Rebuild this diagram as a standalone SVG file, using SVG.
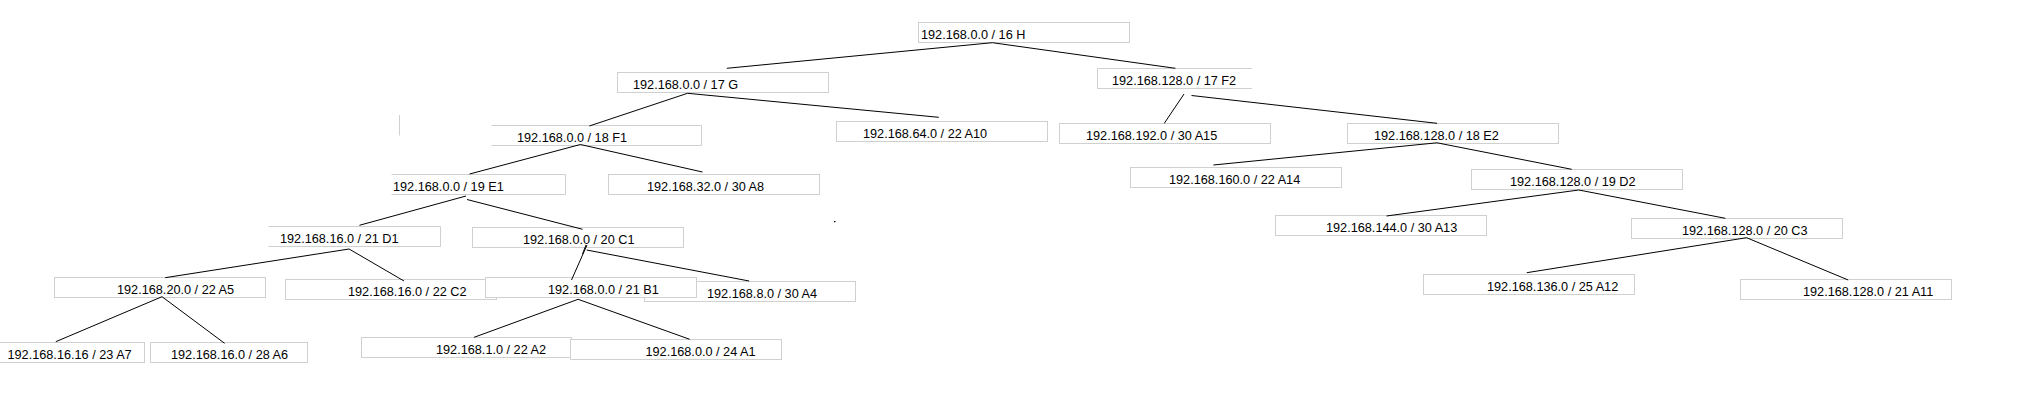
<svg xmlns="http://www.w3.org/2000/svg" width="2041" height="416" viewBox="0 0 2041 416">
<style>
.b{fill:#fff;stroke:#d0d0d0;stroke-width:1}
.o{fill:none;stroke:#d0d0d0;stroke-width:1}
.w{fill:#fff;stroke:none}
.t{font-family:"Liberation Sans",Arial,sans-serif;font-size:12.7px;fill:#000}
#connectors line,#connectors path{stroke:#000;stroke-width:1;fill:none}
</style>
<rect width="2041" height="416" fill="#fff"/>
<line x1="399.5" y1="115" x2="399.5" y2="135.5" stroke="#d0d0d0" stroke-width="1"/>
<rect x="834" y="221" width="1.5" height="1.2" fill="#000"/>
<g id="H"><rect class="b" x="918.5" y="22.5" width="211" height="20"/><text class="t" x="921" y="38.5">192.168.0.0 / 16 H</text></g>
<g id="G"><rect class="b" x="617.5" y="72.5" width="211" height="20"/><text class="t" x="633" y="88.5">192.168.0.0 / 17 G</text></g>
<g id="F2"><rect class="w" x="1097.5" y="68.5" width="154.5" height="20"/><path class="o" d="M1252 68.5H1097.5V88.5H1252"/><text class="t" x="1112" y="84.5">192.168.128.0 / 17 F2</text></g>
<g id="A10"><rect class="b" x="836.5" y="121.5" width="211" height="20"/><text class="t" x="863" y="137.5">192.168.64.0 / 22 A10</text></g>
<g id="A15"><rect class="b" x="1059.5" y="123.5" width="211" height="20"/><text class="t" x="1086" y="139.5">192.168.192.0 / 30 A15</text></g>
<g id="E2"><rect class="b" x="1347.5" y="123.5" width="211" height="20"/><text class="t" x="1374" y="139.5">192.168.128.0 / 18 E2</text></g>
<g id="F1"><rect class="w" x="491.5" y="125.5" width="210" height="20"/><path class="o" d="M491.5 125.5H701.5V145.5H491.5"/><text class="t" x="517" y="141.5">192.168.0.0 / 18 F1</text></g>
<g id="A8"><rect class="b" x="608.5" y="174.5" width="211" height="20"/><text class="t" x="647" y="190.5">192.168.32.0 / 30 A8</text></g>
<g id="A14"><rect class="b" x="1130.5" y="167.5" width="211" height="20"/><text class="t" x="1169" y="183.5">192.168.160.0 / 22 A14</text></g>
<g id="D2"><rect class="b" x="1471.5" y="169.5" width="211" height="20"/><text class="t" x="1510" y="185.5">192.168.128.0 / 19 D2</text></g>
<g id="E1"><rect class="w" x="391.5" y="174.5" width="174" height="20"/><path class="o" d="M391.5 174.5H565.5V194.5H391.5"/><text class="t" x="393" y="190.5">192.168.0.0 / 19 E1</text></g>
<g id="D1"><rect class="w" x="268.5" y="226.5" width="172" height="20"/><path class="o" d="M268.5 226.5H440.5V246.5H268.5"/><text class="t" x="280" y="242.5">192.168.16.0 / 21 D1</text></g>
<g id="C1"><rect class="b" x="472.5" y="227.5" width="211" height="20"/><text class="t" x="523" y="243.5">192.168.0.0 / 20 C1</text></g>
<g id="A13"><rect class="b" x="1275.5" y="215.5" width="211" height="20"/><text class="t" x="1326" y="231.5">192.168.144.0 / 30 A13</text></g>
<g id="C3"><rect class="b" x="1631.5" y="218.5" width="211" height="20"/><text class="t" x="1682" y="234.5">192.168.128.0 / 20 C3</text></g>
<g id="A5"><rect class="b" x="54.5" y="277.5" width="211" height="20"/><text class="t" x="117" y="293.5">192.168.20.0 / 22 A5</text></g>
<g id="C2"><rect class="b" x="285.5" y="279.5" width="211" height="20"/><text class="t" x="348" y="295.5">192.168.16.0 / 22 C2</text></g>
<g id="A4"><rect class="b" x="644.5" y="281.5" width="211" height="20"/><text class="t" x="707" y="297.5">192.168.8.0 / 30 A4</text></g>
<g id="B1"><rect class="b" x="485.5" y="277.5" width="211" height="20"/><text class="t" x="548" y="293.5">192.168.0.0 / 21 B1</text></g>
<g id="A12"><rect class="b" x="1423.5" y="274.5" width="211" height="20"/><text class="t" x="1487" y="290.5">192.168.136.0 / 25 A12</text></g>
<g id="A11"><rect class="b" x="1740.5" y="279.5" width="211" height="20"/><text class="t" x="1803" y="295.5">192.168.128.0 / 21 A11</text></g>
<g id="A7"><rect class="b" x="-1" y="342.5" width="145.5" height="20"/><text class="t" x="7.5" y="358.5">192.168.16.16 / 23 A7</text></g>
<g id="A6"><rect class="b" x="150.5" y="342.5" width="157" height="20"/><text class="t" x="171" y="358.5">192.168.16.0 / 28 A6</text></g>
<g id="A2"><rect class="b" x="361.5" y="337.5" width="210" height="20"/><text class="t" x="436" y="353.5">192.168.1.0 / 22 A2</text></g>
<g id="A1"><rect class="b" x="570.5" y="339.5" width="211" height="20"/><text class="t" x="645.5" y="355.5">192.168.0.0 / 24 A1</text></g>
<g id="connectors">
<line x1="992.4" y1="42.7" x2="726.8" y2="68.3"/>
<line x1="992.4" y1="42.7" x2="1175.4" y2="68.3"/>
<line x1="687.5" y1="93.3" x2="589.3" y2="126"/>
<line x1="687.5" y1="93.3" x2="938.8" y2="117.3"/>
<line x1="1184" y1="94" x2="1164.3" y2="123.3"/>
<line x1="1191.5" y1="95.5" x2="1437" y2="123.3"/>
<line x1="1437" y1="142.8" x2="1213.4" y2="165"/>
<line x1="1437" y1="142.8" x2="1571.7" y2="169.3"/>
<line x1="1578.8" y1="190" x2="1386.5" y2="216"/>
<line x1="1578.8" y1="190" x2="1725.3" y2="218.3"/>
<line x1="1746.6" y1="237.7" x2="1526.8" y2="272.7"/>
<line x1="1746.6" y1="237.7" x2="1848.2" y2="280"/>
<line x1="580.4" y1="144.5" x2="469.6" y2="174"/>
<line x1="580.4" y1="144.5" x2="702.5" y2="172"/>
<line x1="466" y1="196" x2="359.4" y2="225.3"/>
<line x1="467" y1="199.5" x2="582.6" y2="229.3"/>
<line x1="349.1" y1="249" x2="165.2" y2="277.7"/>
<line x1="349.1" y1="249" x2="404" y2="281"/>
<line x1="587" y1="245" x2="571.5" y2="280"/>
<line x1="582.5" y1="254" x2="586" y2="245"/>
<line x1="586.7" y1="250" x2="749.1" y2="281"/>
<line x1="162" y1="296.7" x2="55.8" y2="341.7"/>
<line x1="162" y1="296.7" x2="224.6" y2="343.3"/>
<line x1="578.1" y1="299.3" x2="474.1" y2="337.3"/>
<line x1="578.1" y1="299.3" x2="689.7" y2="339.3"/>
</g>
</svg>
